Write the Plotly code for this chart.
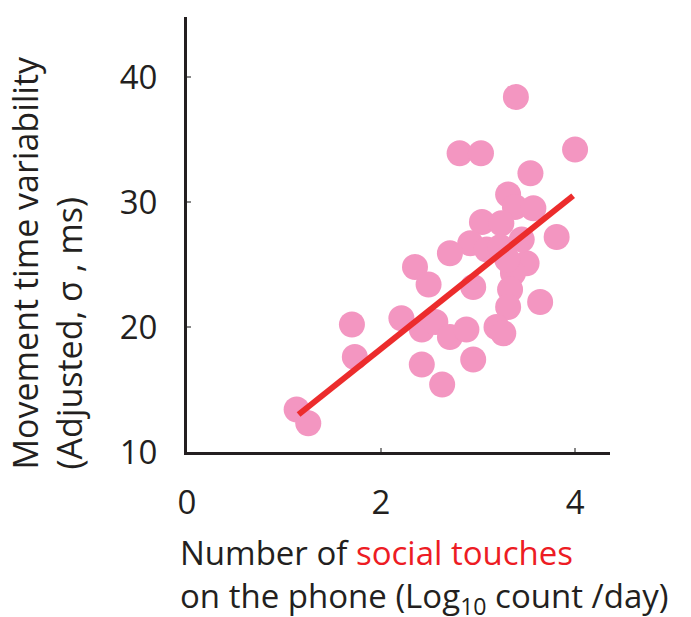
import plotly.graph_objects as go

# ---------------------------------------
# Data
# ---------------------------------------

social_touches_log10 = [
    3.39, 2.81, 3.03, 4.00, 3.54, 3.31, 3.38, 3.57, 3.04, 3.81,
    3.24, 2.92, 3.09, 2.71, 3.23, 2.35, 2.49, 3.50, 3.36, 2.95,
    3.33, 3.31, 3.64, 2.21, 2.42, 2.56, 2.71, 2.88, 3.19, 3.26,
    1.70, 1.73, 2.42, 2.63, 2.95, 1.13, 1.25, 3.45, 3.30,
]

movement_variability = [
    38.4, 33.9, 33.9, 34.2, 32.3, 30.6, 29.6, 29.5, 28.4, 27.2,
    28.3, 26.7, 26.2, 25.9, 26.4, 24.8, 23.4, 25.1, 24.3, 23.2,
    23.0, 21.6, 22.0, 20.7, 19.8, 20.4, 19.2, 19.8, 20.0, 19.5,
    20.2, 17.6, 17.0, 15.4, 17.4, 13.4, 12.3, 27.0, 25.4,
]

fit_x = [1.15, 3.98]
fit_y = [13.0, 30.5]

x_ticks = [0, 2, 4]
y_ticks = [10, 20, 30, 40]

# ---------------------------------------
# Layout helpers (page pixels -> paper units)
# the html body has an 8px margin, so shift everything by it
# ---------------------------------------

W, H = 691, 617
OFF = 8
L, R, T, B = 187 - OFF, 89, 17 - OFF, 173
PW = W - L - R
PH = H - T - B


def px_x(p):
    return (p - OFF - L) / PW


def px_y(p):
    return (H - B - (p - OFF)) / PH


FONT = "Open Sans"
INK = "#231F20"

fig = go.Figure()

fig.add_trace(
    go.Scatter(
        x=social_touches_log10,
        y=movement_variability,
        mode="markers",
        marker=dict(size=26, color="rgb(243,150,193)", line=dict(width=0)),
        showlegend=False,
    )
)

fig.add_trace(
    go.Scatter(
        x=fit_x,
        y=fit_y,
        mode="lines",
        line=dict(color="rgb(236,44,44)", width=6),
        showlegend=False,
    )
)

axis_common = dict(
    showgrid=False,
    zeroline=False,
    showline=True,
    linecolor=INK,
    linewidth=3,
    ticks="inside",
    ticklen=4,
    tickwidth=2,
    tickcolor="#888888",
    tickfont=dict(family=FONT, size=33, color=INK),
)

fig.update_xaxes(
    range=[0, 4.36],
    tickvals=x_ticks,
    ticktext=[str(v) for v in x_ticks],
    ticklabelstandoff=19,
    **axis_common
)

fig.update_yaxes(
    range=[10, 44.8],
    tickvals=y_ticks,
    ticktext=[str(v) for v in y_ticks],
    ticklabelstandoff=20,
    **axis_common
)

fig.add_annotation(
    xref="paper", yref="paper",
    x=px_x(46), y=px_y(472),
    xanchor="center", yanchor="bottom",
    text="Movement time variability<br>(Adjusted, σ , ms)",
    textangle=-90,
    align="left",
    showarrow=False,
    font=dict(family=FONT, size=34, color=INK),
)

fig.add_annotation(
    xref="paper", yref="paper",
    x=px_x(178), y=px_y(528),
    xanchor="left", yanchor="top",
    text="Number of <span style='color:#ED1C24'>social touches</span>"
         "<br>on the phone (Log<sub>10</sub> count /day)",
    align="left",
    showarrow=False,
    font=dict(family=FONT, size=33, color=INK),
)

fig.update_layout(
    width=W,
    height=H,
    margin=dict(l=L, r=R, t=T, b=B),
    plot_bgcolor="white",
    paper_bgcolor="white",
)

fig.write_html("out.html")
